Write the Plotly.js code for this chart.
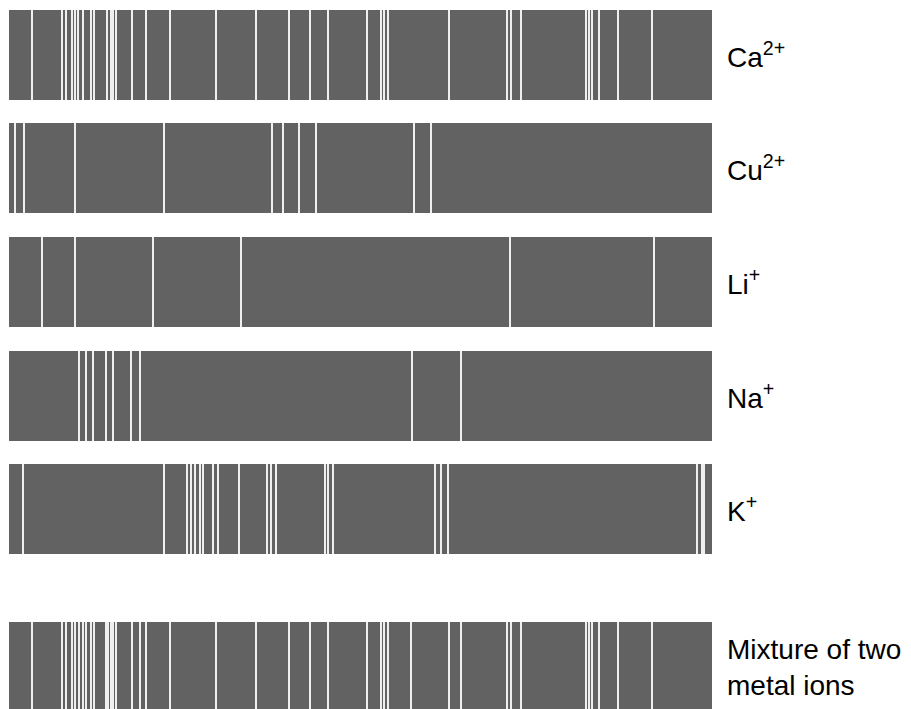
<!DOCTYPE html>
<html>
<head>
<meta charset="utf-8">
<script src="https://cdn.plot.ly/plotly-3.0.1.min.js"></script>
<style>html,body{margin:0;padding:0;background:#fff;}#chart{width:911px;height:709px;}</style>
</head>
<body>
<div id="chart"></div>
<script>
// Band labels
const labels = ["Ca<sup>2+</sup>", "Cu<sup>2+</sup>", "Li<sup>+</sup>", "Na<sup>+</sup>", "K<sup>+</sup>", "Mixture of two<br>metal ions"];

// Positions of the white lines (barcode) in each band
const caLines  = [32,62,66,72,75,78,83,91,94,107,111,113,116,132,146,170,216,256,289,310,328,367,381,384,388,449,507,511,521,586,589,592,599,618,652];
const cuLines  = [15,24,75,164,272,283,299,316,414,431];
const liLines  = [42,75,153,241,510,654];
const naLines  = [79,86,93,106,113,131,140,412,461];
const kLines   = [23,164,187,191,195,200,203,213,218,239,267,271,276,325,328,333,435,441,448,697,702,704];
const mixLines = [32,62,66,72,75,79,83,86,91,94,106,108,111,113,116,132,140,146,170,216,256,289,310,328,367,381,384,388,411,449,461,507,511,521,586,589,592,599,618,652];

const bands = [caLines, cuLines, liLines, naLines, kLines, mixLines];

// Layout geometry (not data)
const rowCenters = [55, 168, 282, 396, 509, 667];
const bandHeight = 90;
const barStart = 9, barEnd = 712;

const traces = [];
bands.forEach((lines, i) => {
  const yc = rowCenters[i];
  traces.push({
    type: 'bar', orientation: 'h',
    x: [barEnd - barStart], base: [barStart], y: [yc],
    width: [bandHeight],
    marker: {color: '#626262', line: {width: 0}},
    hoverinfo: 'skip', showlegend: false
  });
  const xs = [], ys = [];
  lines.forEach(p => { xs.push(p, p, null); ys.push(yc - bandHeight/2, yc + bandHeight/2, null); });
  traces.push({
    type: 'scatter', mode: 'lines', x: xs, y: ys,
    line: {color: '#ffffff', width: 1.8},
    hoverinfo: 'skip', showlegend: false
  });
});

const annotations = labels.map((t, i) => ({
  x: 725, y: rowCenters[i], xref: 'x', yref: 'y',
  text: t, showarrow: false, xanchor: 'left', yanchor: 'middle', align: 'left',
  font: {family: 'Liberation Sans, Arial, sans-serif', size: 28, color: '#000000'}
}));

const layout = {
  width: 911, height: 709,
  margin: {l: 0, r: 0, t: 0, b: 0},
  paper_bgcolor: '#ffffff', plot_bgcolor: '#ffffff',
  xaxis: {range: [0, 911], visible: false, fixedrange: true},
  yaxis: {range: [709, 0], visible: false, fixedrange: true},
  bargap: 0,
  annotations: annotations
};

Plotly.newPlot('chart', traces, layout, {displayModeBar: false, staticPlot: true});
</script>
</body>
</html>
